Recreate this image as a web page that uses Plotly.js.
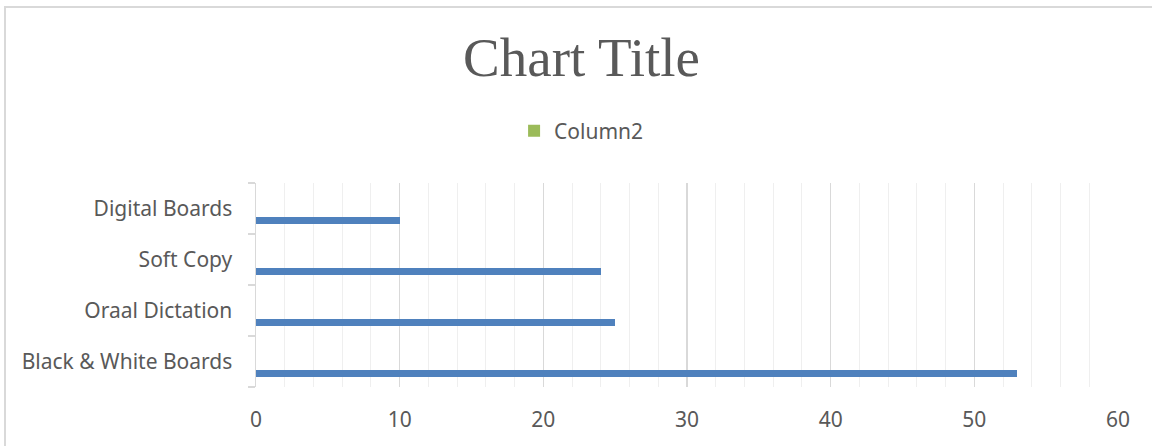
<!DOCTYPE html>
<html>
<head>
<meta charset="utf-8">
<script src="https://cdn.plot.ly/plotly-3.0.1.min.js"></script>
<style>
  html, body { margin: 0; padding: 0; background: #ffffff; overflow: hidden; }
  #chart { position: absolute; left: 0; top: 0; width: 1152px; height: 446px; }
  #frame { position: absolute; left: 4px; top: 6px; width: 1200px; height: 500px;
           border: 2px solid #d9d9d9; pointer-events: none; box-sizing: border-box; }
</style>
</head>
<body>
<div id="chart"></div>
<div id="frame"></div>
<script>
// Data (categories listed bottom to top, as drawn)
const categories = ["Black & White Boards", "Oraal Dictation", "Soft Copy", "Digital Boards"];
const column1Values = [53, 25, 24, 10];
const column2Values = [null, null, null, null];
const seriesNames = ["Column1", "Column2"];
const xTickValues = [0, 10, 20, 30, 40, 50, 60];

const labelFont = { family: "Noto Sans, Open Sans, sans-serif", size: 21, color: "#595959" };

const traces = [
  {
    type: "bar", orientation: "h", name: seriesNames[0],
    y: categories, x: column1Values,
    marker: { color: "#4f81bd" },
    width: 0.137, offset: -0.305,
    showlegend: false, hoverinfo: "x+y"
  },
  {
    type: "bar", orientation: "h", name: seriesNames[1],
    y: categories, x: column2Values,
    marker: { color: "#9bbb59" },
    width: 0.137, offset: -0.168,
    showlegend: true, hoverinfo: "x+y"
  }
];

const layout = {
  width: 1152, height: 446,
  margin: { l: 256, r: 34, t: 183, b: 59, pad: 0 },
  paper_bgcolor: "#ffffff", plot_bgcolor: "#ffffff",
  font: labelFont,
  title: {
    text: "Chart Title",
    font: { family: "Liberation Serif, Times New Roman, serif", size: 55, color: "#595959" },
    xref: "container", x: 0.5048, xanchor: "center",
    yref: "container", y: 0.872, yanchor: "middle"
  },
  showlegend: true,
  legend: {
    orientation: "h", x: 0.2994, xanchor: "left", y: 1.255, yanchor: "middle",
    font: labelFont, bgcolor: "rgba(0,0,0,0)", borderwidth: 0
  },
  xaxis: {
    range: [0, 60], tickvals: xTickValues, ticktext: xTickValues.map(String),
    showgrid: true, gridcolor: "#d9d9d9", gridwidth: 1.5,
    minor: { dtick: 2, showgrid: true, gridcolor: "#efefef", gridwidth: 1, ticks: "" },
    showline: false, zeroline: false, ticks: "",
    ticklabelstandoff: 18, tickfont: labelFont, fixedrange: true
  },
  yaxis: {
    type: "category", categoryorder: "array", categoryarray: categories,
    range: [-0.5, 3.5],
    showgrid: false, zeroline: false,
    showline: true, linecolor: "#d9d9d9", linewidth: 1.5,
    ticks: "outside", tickson: "boundaries", ticklen: 7, tickcolor: "#d9d9d9", tickwidth: 1.5,
    ticklabelstandoff: 18, tickfont: labelFont, fixedrange: true
  },
  bargap: 0, barmode: "group"
};

Plotly.newPlot("chart", traces, layout, { displayModeBar: false, staticPlot: true });
</script>
</body>
</html>
